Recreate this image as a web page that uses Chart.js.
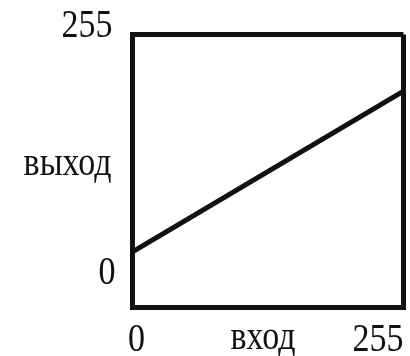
<!DOCTYPE html>
<html>
<head>
<meta charset="utf-8">
<script src="https://cdn.jsdelivr.net/npm/chart.js@4/dist/chart.umd.min.js"></script>
<style>
  html, body { margin: 0; padding: 0; background: #fff; }
  #wrap { width: 410px; height: 356px; }
</style>
</head>
<body>
<div id="wrap"><canvas id="chart"></canvas></div>
<script>
// data
const inputValues = [0, 255];
const outputValues = [52, 202];
const xTickLabels = ["0", "255"];
const yTickLabels = ["0", "255"];
const xTitle = "вход";
const yTitle = "выход";

const ink = "#111";
const font = '34px "Liberation Serif", "DejaVu Serif", serif';

// draws tick labels and titles in the places the old figure has them
const labelsPlugin = {
  id: "labels",
  afterDraw(chart) {
    const { ctx, chartArea } = chart;
    const x = chart.scales.x;
    const y = chart.scales.y;

    const put = (text, px, py, align) => {
      ctx.save();
      ctx.translate(px, py);
      ctx.scale(1, 1.2); // the scan is stretched a bit vertically
      ctx.font = font;
      ctx.fillStyle = ink;
      ctx.textAlign = align;
      ctx.textBaseline = "alphabetic";
      ctx.fillText(text, 0, 0);
      ctx.restore();
    };

    const base = chartArea.bottom + 43;
    put(xTickLabels[0], x.getPixelForValue(0) + 4, base, "center");
    put(xTickLabels[1], x.getPixelForValue(255), base, "right");
    put(xTitle, (chartArea.left + chartArea.right) / 2 - 5, base - 2, "center");

    const right = chartArea.left - 18;
    put(yTickLabels[1], right - 2, y.getPixelForValue(255) + 2.5, "right");
    put(yTickLabels[0], right + 1, y.getPixelForValue(0) - 24, "right");
    put(yTitle, right - 3, (chartArea.top + chartArea.bottom) / 2 + 4, "right");
  },
};

const axis = {
  type: "linear",
  min: 0,
  max: 255,
  ticks: { display: false, stepSize: 255 },
  grid: { color: ink, lineWidth: 5, drawTicks: false },
  border: { color: ink, width: 5 },
};

new Chart(document.getElementById("chart"), {
  type: "line",
  data: {
    datasets: [
      {
        data: inputValues.map((v, i) => ({ x: v, y: outputValues[i] })),
        borderColor: ink,
        borderWidth: 5,
        pointRadius: 0,
        tension: 0,
      },
    ],
  },
  options: {
    responsive: true,
    maintainAspectRatio: false,
    animation: false,
    layout: { padding: { left: 132.5, top: 34.5, right: 6.5, bottom: 48.5 } },
    plugins: { legend: { display: false }, tooltip: { enabled: false } },
    scales: { x: axis, y: axis },
  },
  plugins: [labelsPlugin],
});
</script>
</body>
</html>
